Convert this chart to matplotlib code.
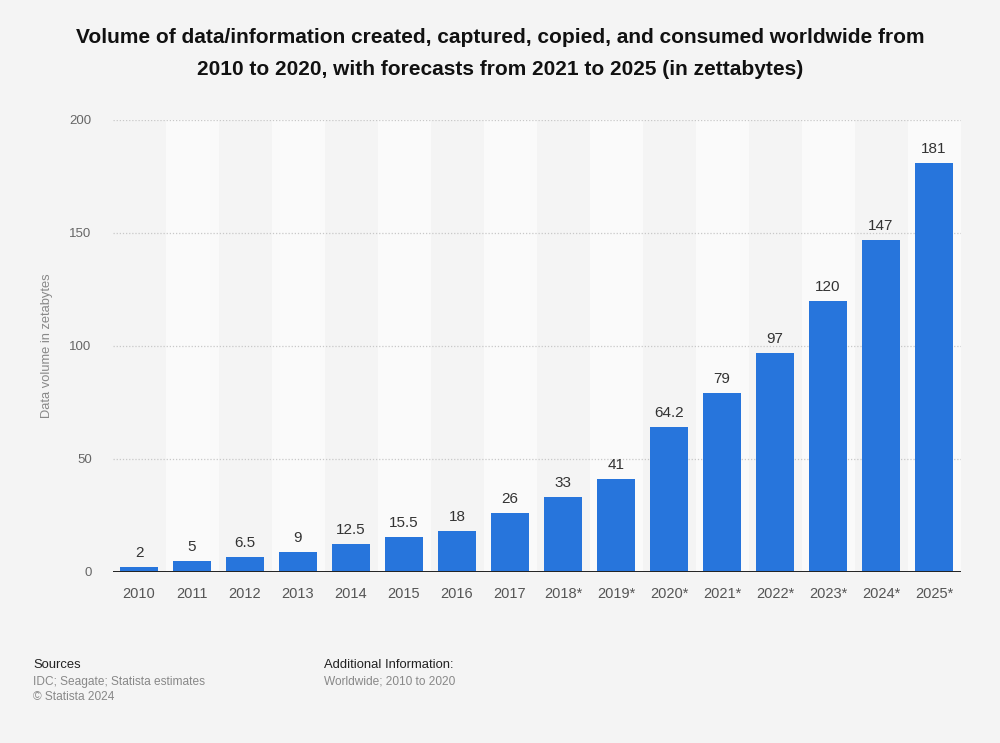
import matplotlib.pyplot as plt

years = ["2010", "2011", "2012", "2013", "2014", "2015", "2016", "2017",
         "2018*", "2019*", "2020*", "2021*", "2022*", "2023*", "2024*", "2025*"]
volume = [2, 5, 6.5, 9, 12.5, 15.5, 18, 26, 33, 41, 64.2, 79, 97, 120, 147, 181]
value_labels = ["2", "5", "6.5", "9", "12.5", "15.5", "18", "26", "33", "41",
                "64.2", "79", "97", "120", "147", "181"]
y_ticks = [0, 50, 100, 150, 200]

plt.rcParams['font.family'] = ['Liberation Sans', 'DejaVu Sans']

bg = "#f4f4f4"
fig = plt.figure(figsize=(10, 7.43), dpi=100, facecolor=bg)
ax = fig.add_axes([0.1125, 0.2302, 0.848, 0.6083])
ax.set_facecolor(bg)

x = list(range(len(years)))

# alternating column bands
for i in x:
    if i % 2 == 1:
        ax.axvspan(i - 0.5, i + 0.5, color="#fafafa", zorder=0, lw=0)

for t in y_ticks[1:]:
    ax.axhline(t, color="#c8c8c8", lw=0.9, ls=(0, (1, 1.5)), zorder=1)

ax.bar(x, volume, width=0.7, color="#2775dc", zorder=2)
ax.axhline(0, color="#222222", lw=1.4, zorder=3)

for xi, v, lab in zip(x, volume, value_labels):
    ax.annotate(lab, (xi, v), xytext=(0, 5), textcoords="offset points",
                ha="center", va="bottom", fontsize=11, color="#333333")

ax.set_xlim(-0.5, len(years) - 0.5)
ax.set_ylim(0, 200)
ax.set_xticks(x)
ax.set_xticklabels(years, fontsize=10.5, color="#555555")
ax.set_yticks(y_ticks)
ax.set_yticklabels([str(t) for t in y_ticks], fontsize=9.5, color="#666666")
ax.tick_params(axis="both", length=0)
ax.tick_params(axis="x", pad=11)
ax.tick_params(axis="y", pad=15)
for s in ax.spines.values():
    s.set_visible(False)

ax.set_ylabel("Data volume in zetabytes", fontsize=9.3, color="#888888")
ax.yaxis.set_label_coords(-0.070, 0.5)

fig.text(0.5, 0.950, "Volume of data/information created, captured, copied, and consumed worldwide from",
         ha="center", va="center", fontsize=15, fontweight="bold", color="#111111")
fig.text(0.5, 0.907, "2010 to 2020, with forecasts from 2021 to 2025 (in zettabytes)",
         ha="center", va="center", fontsize=15, fontweight="bold", color="#111111")

fig.text(0.033, 1 - 665 / 743, "Sources", fontsize=9.4, color="#222222",
         va="center")
fig.text(0.033, 1 - 682 / 743, "IDC; Seagate; Statista estimates",
         fontsize=8.6, color="#888888", va="center")
fig.text(0.033, 1 - 697 / 743, "© Statista 2024", fontsize=8.6,
         color="#888888", va="center")
fig.text(0.324, 1 - 665 / 743, "Additional Information:", fontsize=9.4,
         color="#222222", va="center")
fig.text(0.324, 1 - 682 / 743, "Worldwide; 2010 to 2020", fontsize=8.6,
         color="#888888", va="center")

fig.savefig("out.png", dpi=100, facecolor=bg)
